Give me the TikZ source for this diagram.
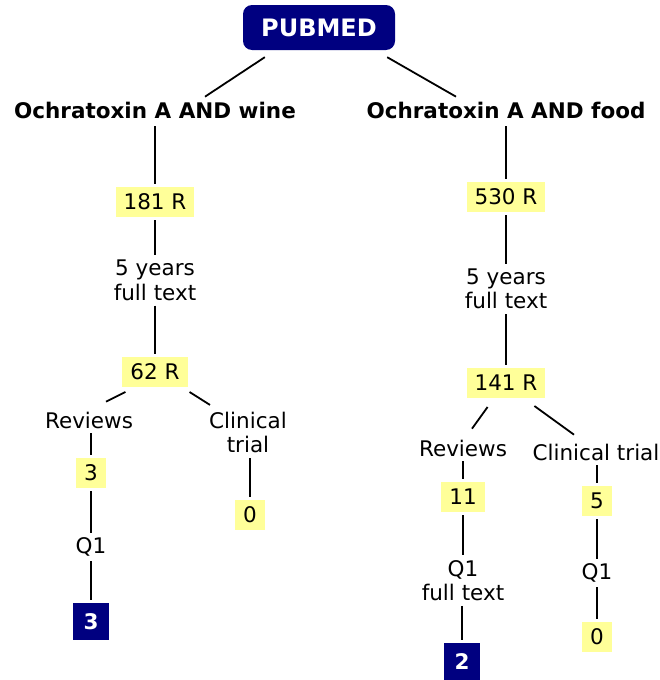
\documentclass[tikz,border=0pt]{standalone}
\usepackage{fontspec}
\setmainfont{DejaVu Sans}
\usetikzlibrary{calc}
\definecolor{navy}{RGB}{0,0,128}
\definecolor{pale}{RGB}{255,255,153}
\begin{document}
\begin{tikzpicture}[x=1pt,y=-1pt,
  txt/.style={font=\fontsize{21.5}{24.5}\selectfont, align=center, inner sep=0pt, outer sep=5pt},
  ttl/.style={font=\fontsize{21.5}{25}\selectfont\bfseries, inner sep=0pt, outer sep=8pt},
  ybox/.style={fill=pale, font=\fontsize{21.5}{24}\selectfont, inner xsep=8pt, inner ysep=0pt, minimum height=30pt, outer sep=3pt},
  nbox/.style={fill=navy, text=white, font=\fontsize{21.5}{24}\selectfont\bfseries, minimum width=36pt, minimum height=37pt, inner sep=0pt, outer sep=3pt},
  conn/.style={line width=1.8pt}]
\useasboundingbox (0,0) rectangle (660,680);
% top
\node[fill=navy, rounded corners=9pt, minimum width=152pt, minimum height=45pt, inner sep=0pt, text=white, font=\fontsize{24}{28}\selectfont\bfseries] (pub) at (319,27.5) {PUBMED};
\node[ttl] (t1) at (155,110) {Ochratoxin A AND wine};
\node[ttl] (t2) at (506,110) {Ochratoxin A AND food};
\draw[conn] ($(pub.south west)+(22,7)$) -- ($(t1.north)+(50,3)$);
\draw[conn] ($(pub.south east)+(-8,7)$) -- ($(t2.north)+(-50,3)$);
% left branch
\node[ybox] (a1) at (155,202) {181 R};
\node[txt] (y1) at (155,280.5) {5 years\\full text};
\node[ybox] (b1) at (155,372) {62 R};
\node[txt] (rv1) at (89,420) {Reviews};
\node[txt] (ct1) at (248,432.5) {Clinical\\trial};
\node[ybox] (c1) at (91,473) {3};
\node[txt] (q1) at (91,547) {Q1};
\node[nbox] (n1) at (91,621.5) {3};
\node[ybox] (d1) at (250,515) {0};
\draw[conn] (t1) -- (a1);
\draw[conn] (a1) -- (y1);
\draw[conn] (y1) -- (b1);
\draw[conn] ($(b1.south west)+(6,2)$) -- ($(rv1.north)+(17,-5)$);
\draw[conn] ($(b1.south east)+(-1,2)$) -- ($(ct1.north)+(-38,-2)$);
\draw[conn] (rv1.south -| c1) -- (c1);
\draw[conn] (c1) -- (q1);
\draw[conn] (q1) -- (n1);
\draw[conn] (ct1.south -| d1) -- (d1);
% right branch
\node[ybox] (a2) at (506,197) {530 R};
\node[txt] (y2) at (506,289) {5 years\\full text};
\node[ybox] (b2) at (506,383) {141 R};
\node[txt] (rv2) at (463,448) {Reviews};
\node[txt] (ct2) at (596,452) {Clinical trial};
\node[ybox] (c2) at (463,497) {11};
\node[txt] (q2) at (463,580.5) {Q1\\full text};
\node[nbox] (n2) at (462,661.5) {2};
\node[ybox] (d2) at (597,501) {5};
\node[txt] (q3) at (597,573) {Q1};
\node[ybox] (e2) at (597,637) {0};
\draw[conn] (t2) -- (a2);
\draw[conn] (a2) -- (y2);
\draw[conn] (y2) -- (b2);
\draw[conn] ($(b2.south west)+(24,6)$) -- ($(rv2.north)+(9,-6)$);
\draw[conn] ($(b2.south east)+(-14,5)$) -- ($(ct2.north)+(-22,-4)$);
\draw[conn] (rv2) -- (c2);
\draw[conn] (c2) -- (q2);
\draw[conn] (q2.south -| n2) -- (n2);
\draw[conn] (ct2.south -| d2) -- (d2);
\draw[conn] (d2) -- (q3);
\draw[conn] (q3) -- (e2);
\end{tikzpicture}
\end{document}
